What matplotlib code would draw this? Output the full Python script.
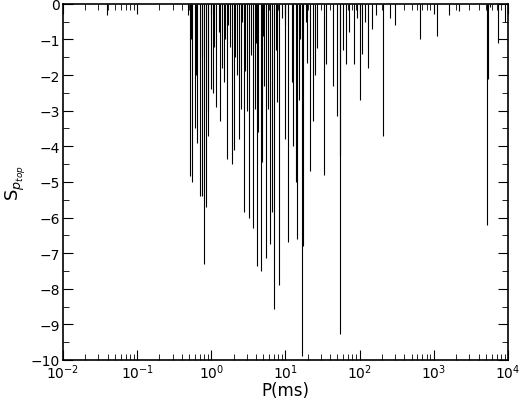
import matplotlib
matplotlib.use("Agg")
import matplotlib.pyplot as plt
import numpy as np

logP = [-1.40,
 -0.29,-0.26,-0.22,-0.19,-0.15,-0.13,-0.10,-0.07,-0.04,0.00,0.02,0.06,0.14,0.17,0.21,0.25,0.28,0.30,0.35,0.37,
 0.40,0.44,0.48,0.51,0.54,0.56,0.59,0.62,0.63,0.67,0.68,0.71,0.74,0.76,0.79,0.82,0.85,0.89,0.91,0.95,0.99,
 1.03,1.09,1.10,1.14,1.16,1.18,1.22,1.24,1.29,1.33,1.37,1.40,1.43,1.52,1.55,1.64,1.70,1.73,1.74,1.78,1.82,
 1.85,1.92,1.96,2.00,2.03,2.07,2.11,2.17,2.22,2.32,2.41,2.48,2.81,3.04,3.21,3.34,3.72,3.73,3.76,3.87,3.96,
 -0.32,-0.27,-0.20,-0.12,-0.05,0.03,0.10,0.12,0.19,0.23,0.32,0.42,0.45,0.60,0.70,0.87,1.00,1.20,1.27]
S = [-0.3,
 -4.83,-5.0,-3.5,-3.9,-5.4,-5.4,-7.3,-5.7,-3.7,-2.4,-2.5,-2.9,-1.8,-2.2,-4.35,-1.2,-4.5,-4.1,-2.0,-3.8,
 -2.95,-5.85,-3.0,-6.0,-1.45,-6.3,-2.95,-7.35,-3.6,-7.5,-4.45,-2.3,-7.15,-2.95,-6.75,-5.85,-8.57,-2.75,-7.9,-0.4,-3.8,
 -6.7,-2.2,-4.0,-5.0,-6.6,-2.7,-9.9,-6.8,-1.65,-4.7,-3.3,-2.0,-1.25,-4.8,-1.7,-2.3,-3.15,-9.27,-4.25,-1.3,-1.7,
 -0.8,-1.7,-0.4,-2.7,-1.4,-0.5,-1.8,-0.7,-0.3,-3.7,-0.4,-0.6,-1.0,-0.9,-0.3,-0.2,-6.2,-2.1,-0.1,-1.1,-0.5,
 -0.3,-1.0,-2.0,-1.5,-3.0,-1.2,-0.8,-3.3,-1.0,-0.6,-1.5,-0.5,-1.9,-1.1,-0.9,-1.3,-0.6,-1.0,-0.5]

P = 10.0 ** np.array(logP)

fig = plt.figure(figsize=(5.2, 4.02), dpi=100)
ax = fig.add_axes([0.121, 0.102, 0.856, 0.886])
ax.vlines(P, S, 0, colors="black", linewidth=0.8)
ax.set_xscale("log")
ax.set_xlim(1e-2, 1e4)
ax.set_ylim(-10, 0)
ax.set_yticks(np.arange(-10, 1, 1))
ax.set_yticks(np.arange(-10, 0, 0.5), minor=True)
ax.tick_params(which="both", direction="in", top=True, right=True, labelsize=10, pad=2)
ax.tick_params(which="major", length=7)
ax.tick_params(which="minor", length=4)
ax.set_xlabel("P(ms)", fontsize=12, labelpad=0)
ax.set_ylabel("S$_{p_{top}}$", fontsize=13, labelpad=2)
for s in ax.spines.values():
    s.set_linewidth(1.2)
fig.savefig("out.png", dpi=100)
